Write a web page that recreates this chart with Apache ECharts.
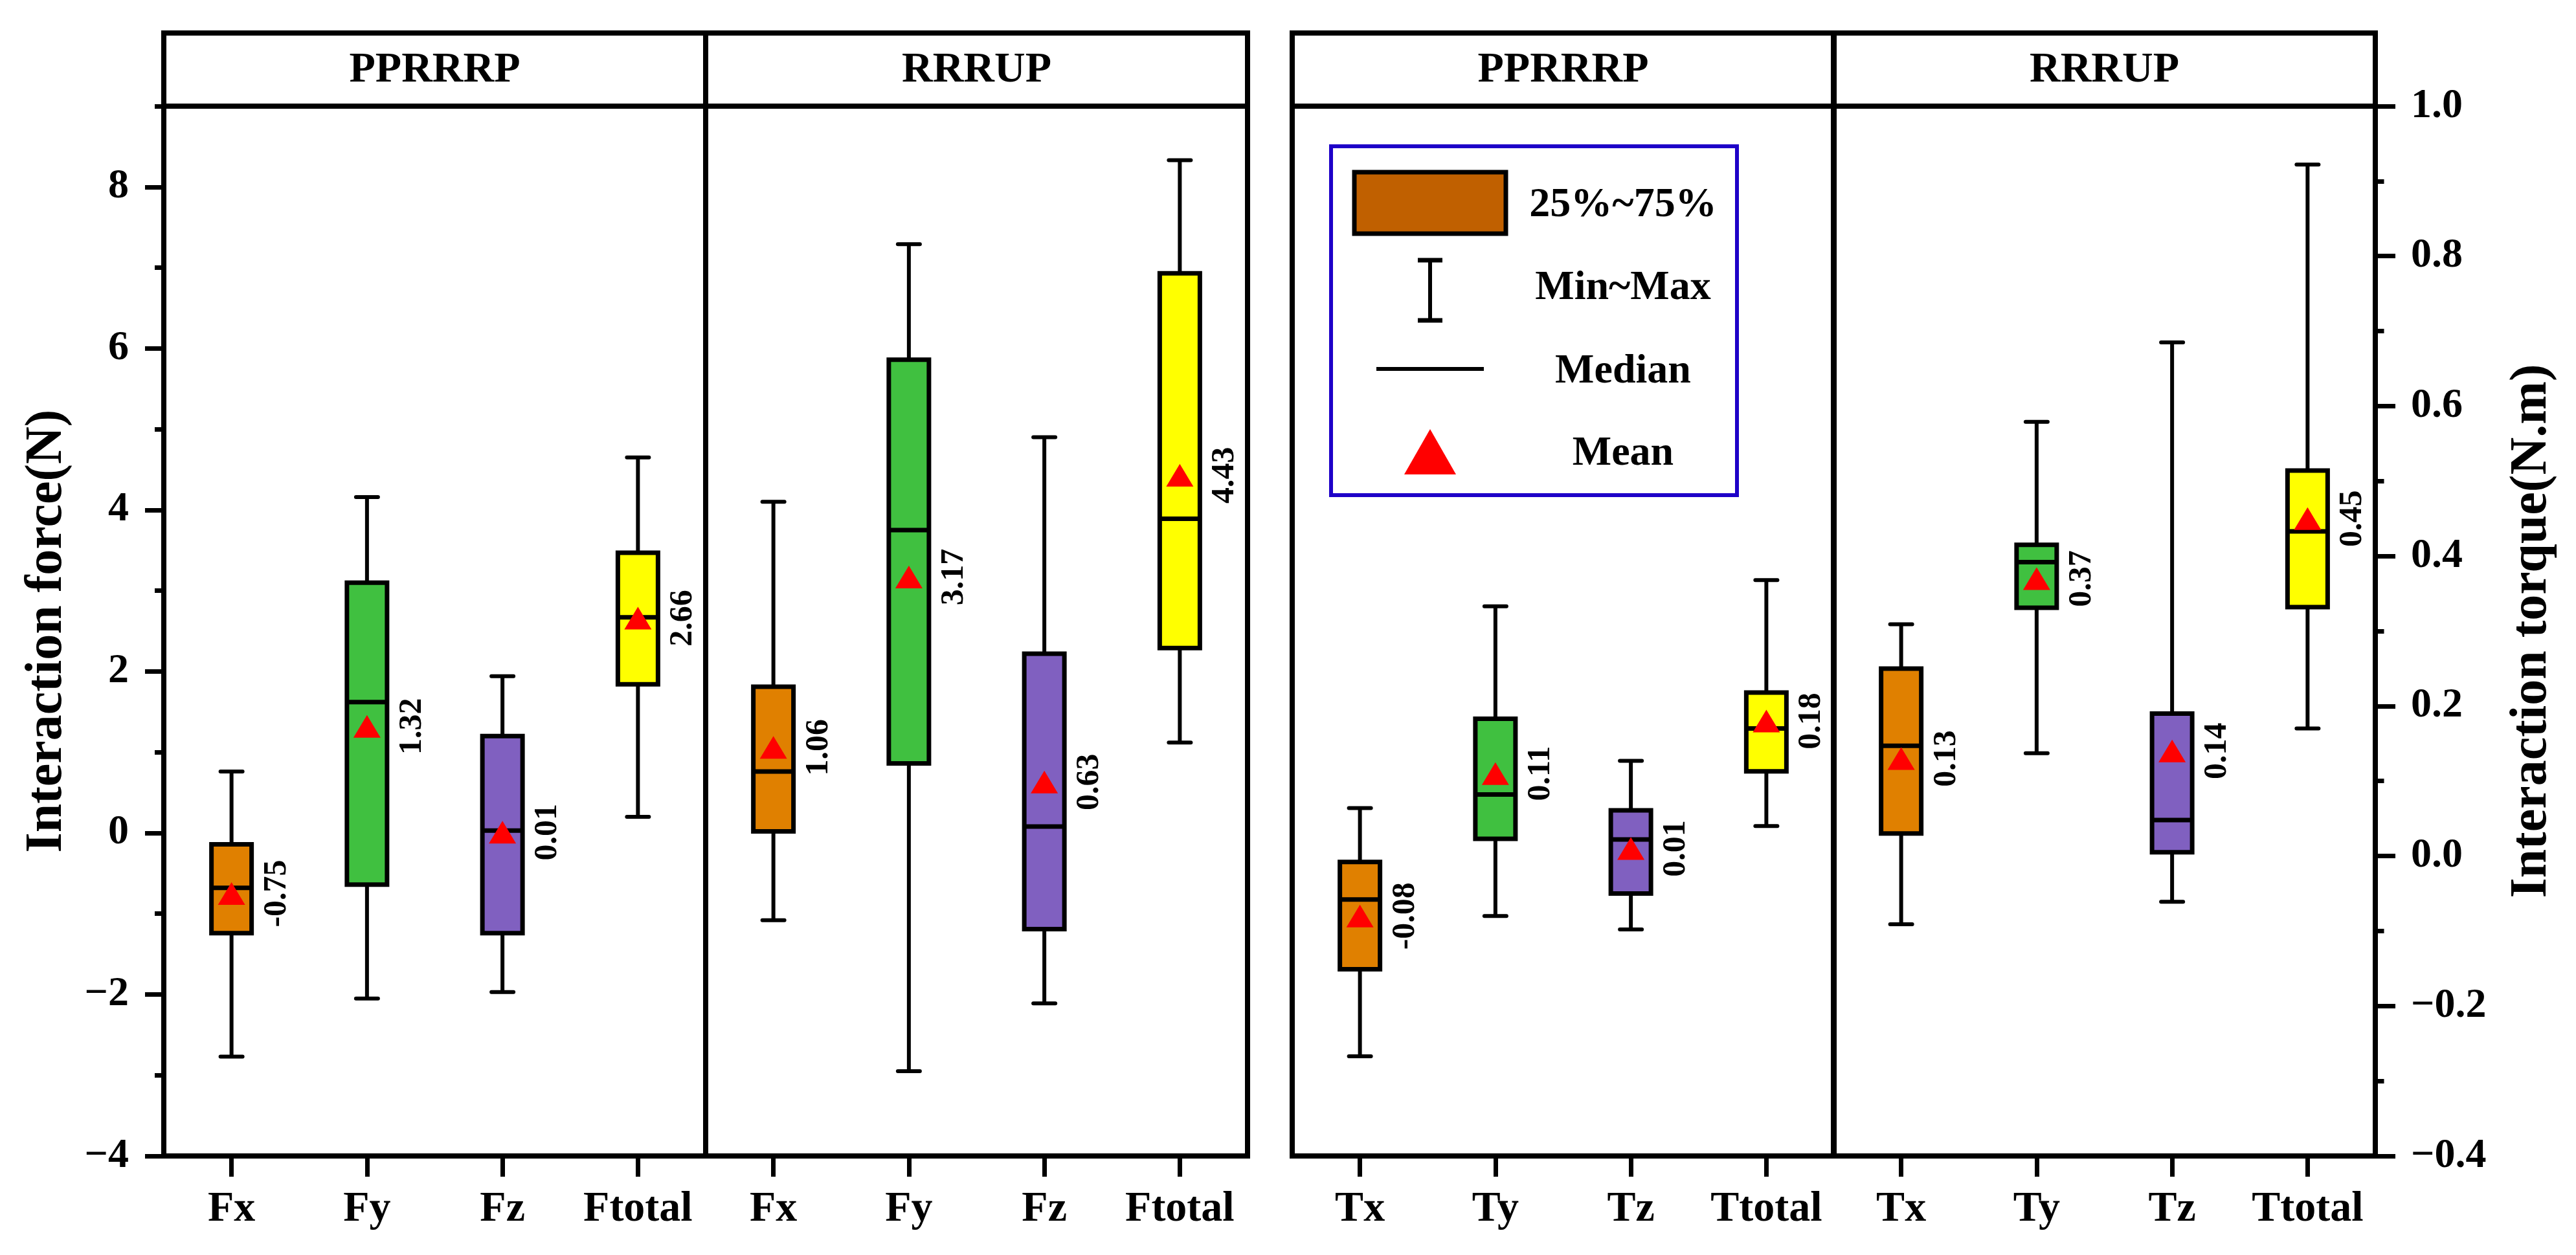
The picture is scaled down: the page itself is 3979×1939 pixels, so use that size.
<!DOCTYPE html>
<html><head><meta charset="utf-8">
<script src="https://cdn.jsdelivr.net/npm/echarts@6/dist/echarts.min.js"></script>
<style>html,body{margin:0;padding:0;background:#fff}#c{width:3979px;height:1939px}</style>
</head><body><div id="c"></div>
<script>
// ---------------- DATA ----------------
const forceCategories = ['Fx', 'Fy', 'Fz', 'Ftotal'];
const torqueCategories = ['Tx', 'Ty', 'Tz', 'Ttotal'];
const panelTitles = ['PPRRRP', 'RRRUP', 'PPRRRP', 'RRRUP'];

// PPRRRP force (N)
const fP_min  = [-2.77, -2.05, -1.97, 0.20];
const fP_q1   = [-1.24, -0.64, -1.24, 1.84];
const fP_med  = [-0.68,  1.62,  0.03, 2.67];
const fP_q3   = [-0.14,  3.10,  1.20, 3.47];
const fP_max  = [ 0.76,  4.16,  1.94, 4.65];
const fP_mean = [-0.75,  1.32,  0.01, 2.66];
// RRRUP force (N)
const fR_min  = [-1.08, -2.95, -2.11, 1.12];
const fR_q1   = [ 0.02,  0.86, -1.19, 2.29];
const fR_med  = [ 0.76,  3.75,  0.08, 3.89];
const fR_q3   = [ 1.81,  5.86,  2.22, 6.93];
const fR_max  = [ 4.10,  7.29,  4.90, 8.33];
const fR_mean = [ 1.06,  3.17,  0.63, 4.43];
// PPRRRP torque (N.m)
const tP_min  = [-0.267, -0.080, -0.098, 0.040];
const tP_q1   = [-0.151,  0.023, -0.050, 0.113];
const tP_med  = [-0.058,  0.082,  0.022, 0.170];
const tP_q3   = [-0.008,  0.183,  0.061, 0.218];
const tP_max  = [ 0.064,  0.333,  0.127, 0.368];
const tP_mean = [-0.08,   0.11,   0.01,  0.18];
// RRRUP torque (N.m)
const tR_min  = [-0.091,  0.137, -0.061, 0.170];
const tR_q1   = [ 0.030,  0.331,  0.005, 0.332];
const tR_med  = [ 0.147,  0.392,  0.048, 0.433];
const tR_q3   = [ 0.250,  0.415,  0.190, 0.514];
const tR_max  = [ 0.309,  0.579,  0.685, 0.922];
const tR_mean = [ 0.13,   0.37,   0.14,  0.45];

const forceTicks = [-4, -2, 0, 2, 4, 6, 8];
const forceMinorTicks = [-3, -1, 1, 3, 5, 7, 9];
const torqueTicks = [-0.4, -0.2, 0, 0.2, 0.4, 0.6, 0.8, 1.0];
const torqueMinorTicks = [-0.3, -0.1, 0.1, 0.3, 0.5, 0.7, 0.9];

const legendLabels = ['25%~75%', 'Min~Max', 'Median', 'Mean'];

// ---------------- STYLE / LAYOUT ----------------
const FONT = '"Liberation Serif", "Times New Roman", serif';
const boxColors = ['#E08000', '#40C040', '#8060C0', '#FFFF00'];
const PX = [253, 1090, 1996, 2832];
const PW = 837;
const TOP = 164, BOT = 1786, HEAD_TOP = 51;
const LINE_W = 8;

function rows(mn, q1, md, q3, mx, mean) {
  return mn.map((v, i) => [i, mn[i], q1[i], md[i], q3[i], mx[i], mean[i]]);
}

function renderBox(params, api) {
  const i = api.value(0);
  const pMin = api.coord([i, api.value(1)]);
  const pQ1 = api.coord([i, api.value(2)]);
  const pMed = api.coord([i, api.value(3)]);
  const pQ3 = api.coord([i, api.value(4)]);
  const pMax = api.coord([i, api.value(5)]);
  const pMean = api.coord([i, api.value(6)]);
  const x = pMin[0];
  const bw = 62, cw = 17;
  const ls = { stroke: '#000', lineWidth: 6, fill: null };
  return {
    type: 'group',
    children: [
      { type: 'line', shape: { x1: x, y1: pMin[1], x2: x, y2: pMax[1] }, style: ls },
      { type: 'line', shape: { x1: x - cw, y1: pMin[1], x2: x + cw, y2: pMin[1] }, style: Object.assign({}, ls, { lineCap: 'round' }) },
      { type: 'line', shape: { x1: x - cw, y1: pMax[1], x2: x + cw, y2: pMax[1] }, style: Object.assign({}, ls, { lineCap: 'round' }) },
      { type: 'rect', shape: { x: x - bw / 2, y: pQ3[1], width: bw, height: pQ1[1] - pQ3[1] },
        style: { fill: boxColors[i], stroke: '#000', lineWidth: 7 } },
      { type: 'line', shape: { x1: x - bw / 2, y1: pMed[1], x2: x + bw / 2, y2: pMed[1] }, style: { stroke: '#000', lineWidth: 7 } },
      { type: 'polygon', shape: { points: [[x, pMean[1] - 17.5], [x - 21, pMean[1] + 17.5], [x + 21, pMean[1] + 17.5]] },
        style: { fill: '#FF0000' } },
      { type: 'text', x: x + 70, y: pMean[1], rotation: Math.PI / 2,
        style: { text: api.value(6).toFixed(2), font: 'bold 50px ' + FONT, fill: '#000', align: 'center', verticalAlign: 'middle' } }
    ]
  };
}

const minus = s => String(s).replace('-', '\u2212');

function xAxisFor(g, cats) {
  return {
    type: 'category', gridIndex: g, data: cats, boundaryGap: true, position: 'bottom',
    axisLine: { show: true, onZero: false, lineStyle: { color: '#000', width: LINE_W } },
    axisTick: { show: true, alignWithLabel: true, inside: false, length: 32, lineStyle: { color: '#000', width: 7 } },
    axisLabel: { show: true, interval: 0, margin: 50, color: '#000', fontFamily: FONT, fontWeight: 'bold', fontSize: 66 },
    splitLine: { show: false }
  };
}

const grids = PX.map(x => ({
  left: x, top: TOP, width: PW, height: BOT - TOP,
  show: true, borderColor: '#000', borderWidth: LINE_W, backgroundColor: 'transparent',
  containLabel: false, outerBoundsMode: 'none'
}));

const hiddenY = (g, mn, mx) => ({ type: 'value', gridIndex: g, min: mn, max: mx, show: false, splitLine: { show: false } });

const yAxes = [
  { // 0: P1 main left
    type: 'value', gridIndex: 0, min: -4, max: 9, position: 'left',
    axisLine: { show: true, onZero: false, lineStyle: { color: '#000', width: LINE_W } },
    axisTick: { show: true, inside: false, length: 29, lineStyle: { color: '#000', width: 7 }, customValues: forceTicks },
    axisLabel: { show: true, customValues: forceTicks, formatter: v => minus(v), margin: 54, color: '#000', fontFamily: FONT, fontWeight: 'bold', fontSize: 64 },
    splitLine: { show: false },
    name: 'Interaction force(N)', nameLocation: 'middle', nameRotate: 90, nameGap: 140, nameMoveOverlap: false,
    nameTextStyle: { color: '#000', fontFamily: FONT, fontWeight: 'bold', fontSize: 80 }
  },
  { // 1: P1 minor ticks
    type: 'value', gridIndex: 0, min: -4, max: 9, position: 'left',
    axisLine: { show: false, onZero: false },
    axisTick: { show: true, inside: false, length: 14, lineStyle: { color: '#000', width: 7 }, customValues: forceMinorTicks },
    axisLabel: { show: false }, splitLine: { show: false }
  },
  hiddenY(1, -4, 9), // 2
  hiddenY(2, -0.4, 1.0), // 3
  { // 4: P4 main right
    type: 'value', gridIndex: 3, min: -0.4, max: 1.0, position: 'right',
    axisLine: { show: true, onZero: false, lineStyle: { color: '#000', width: LINE_W } },
    axisTick: { show: true, inside: false, length: 31, lineStyle: { color: '#000', width: 7 }, customValues: torqueTicks },
    axisLabel: { show: true, customValues: torqueTicks, formatter: v => minus(Number(v).toFixed(1)), margin: 55, color: '#000', fontFamily: FONT, fontWeight: 'bold', fontSize: 64 },
    splitLine: { show: false },
    name: 'Interaction torque(N.m)', nameLocation: 'middle', nameRotate: 90, nameGap: 202, nameMoveOverlap: false,
    nameTextStyle: { color: '#000', fontFamily: FONT, fontWeight: 'bold', fontSize: 80 }
  },
  { // 5: P4 minor ticks
    type: 'value', gridIndex: 3, min: -0.4, max: 1.0, position: 'right',
    axisLine: { show: false, onZero: false },
    axisTick: { show: true, inside: false, length: 13.5, lineStyle: { color: '#000', width: 7 }, customValues: torqueMinorTicks },
    axisLabel: { show: false }, splitLine: { show: false }
  }
];

function boxSeries(xi, yi, data) {
  return {
    type: 'custom', xAxisIndex: xi, yAxisIndex: yi, data: data,
    encode: { x: 0, y: [1, 2, 3, 4, 5, 6] },
    renderItem: renderBox, silent: true, clip: false, z: 5
  };
}

// header boxes
const graphics = [];
PX.forEach((x, k) => {
  graphics.push({ type: 'rect', shape: { x: x, y: HEAD_TOP, width: PW, height: TOP - HEAD_TOP },
    style: { fill: 'none', stroke: '#000', lineWidth: LINE_W }, z: 10 });
  graphics.push({ type: 'text', x: x + PW / 2, y: (HEAD_TOP + TOP) / 2 + 1,
    style: { text: panelTitles[k], font: 'bold 66px ' + FONT, fill: '#000', align: 'center', verticalAlign: 'middle' }, z: 10 });
});
// legend key
const LG = { x: 2053, y: 223, w: 633, h: 545, textX: 2507 };
graphics.push({ type: 'rect', shape: { x: LG.x + 3, y: LG.y + 3, width: LG.w - 6, height: LG.h - 6 },
  style: { fill: '#fff', stroke: '#1E00C8', lineWidth: 6 }, z: 20 });
graphics.push({ type: 'rect', shape: { x: 2092, y: 266, width: 234, height: 95 },
  style: { fill: '#C06000', stroke: '#000', lineWidth: 7 }, z: 21 });
graphics.push({ type: 'line', shape: { x1: 2209, y1: 401, x2: 2209, y2: 496 }, style: { stroke: '#000', lineWidth: 6 }, z: 21 });
graphics.push({ type: 'line', shape: { x1: 2190, y1: 402, x2: 2228, y2: 402 }, style: { stroke: '#000', lineWidth: 7 }, z: 21 });
graphics.push({ type: 'line', shape: { x1: 2190, y1: 495, x2: 2228, y2: 495 }, style: { stroke: '#000', lineWidth: 7 }, z: 21 });
graphics.push({ type: 'line', shape: { x1: 2126, y1: 570, x2: 2292, y2: 570 }, style: { stroke: '#000', lineWidth: 6 }, z: 21 });
graphics.push({ type: 'polygon', shape: { points: [[2209, 663], [2169, 733], [2249, 733]] }, style: { fill: '#FF0000' }, z: 21 });
[317, 445, 574, 701].forEach((y, k) => {
  graphics.push({ type: 'text', x: LG.textX, y: y,
    style: { text: legendLabels[k], font: 'bold 64px ' + FONT, fill: '#000', align: 'center', verticalAlign: 'middle' }, z: 21 });
});

const option = {
  animation: false,
  backgroundColor: '#fff',
  textStyle: { fontFamily: FONT },
  grid: grids,
  xAxis: [xAxisFor(0, forceCategories), xAxisFor(1, forceCategories), xAxisFor(2, torqueCategories), xAxisFor(3, torqueCategories)],
  yAxis: yAxes,
  series: [
    boxSeries(0, 0, rows(fP_min, fP_q1, fP_med, fP_q3, fP_max, fP_mean)),
    boxSeries(1, 2, rows(fR_min, fR_q1, fR_med, fR_q3, fR_max, fR_mean)),
    boxSeries(2, 3, rows(tP_min, tP_q1, tP_med, tP_q3, tP_max, tP_mean)),
    boxSeries(3, 4, rows(tR_min, tR_q1, tR_med, tR_q3, tR_max, tR_mean))
  ],
  graphic: graphics
};

const chart = echarts.init(document.getElementById('c'), null, { renderer: 'canvas' });
chart.setOption(option);
</script>
</body></html>
